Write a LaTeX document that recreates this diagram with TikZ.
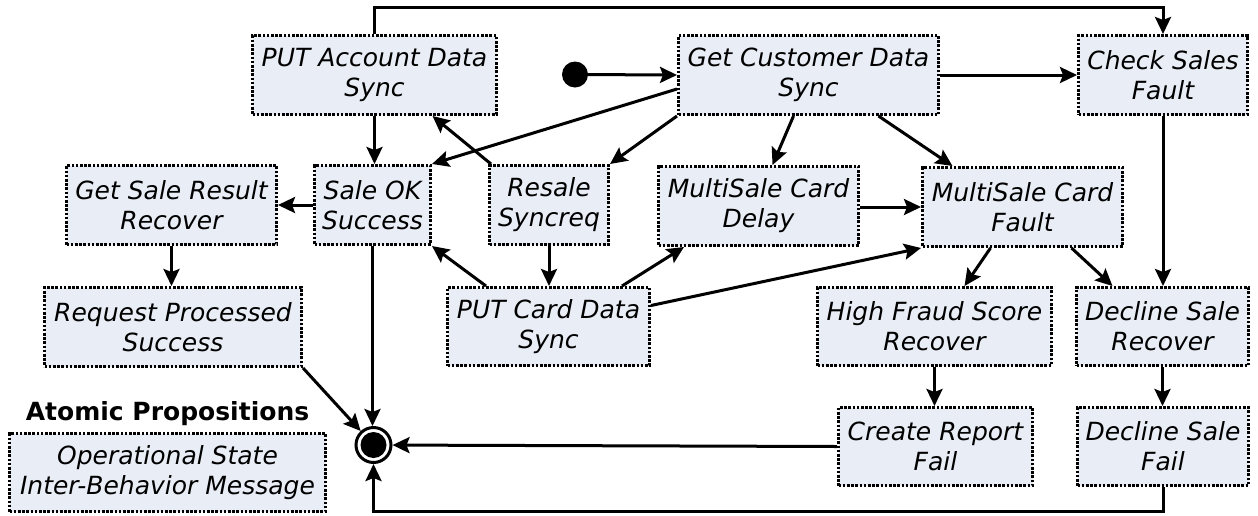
\documentclass[tikz,border=0pt]{standalone}
\usepackage{fontspec}
\setmainfont{DejaVu Sans}[ItalicFont={DejaVu Sans Oblique},BoldFont={DejaVu Sans Bold}]
\usetikzlibrary{arrows.meta,calc}
\definecolor{boxfill}{RGB}{233,238,246}
\newcommand{\boxfont}{\fontsize{25}{30}\selectfont\itshape}
\tikzset{
  state/.style={draw, line width=3pt, dash pattern=on 2.6pt off 1.6pt, fill=boxfill,
    inner sep=0pt, align=center, font=\boxfont, minimum height=79pt},
  arr/.style={-{Stealth[length=17pt,width=16pt,inset=3pt]}, line width=3pt},
}
\begin{document}
\begin{tikzpicture}[x=1pt,y=-1pt]
\useasboundingbox (0,0) rectangle (1258,515);

% states
\node[state, minimum width=244pt] (pa) at (374.5,75) {PUT Account Data\\Sync};
\node[state, minimum width=260pt] (gc) at (808.5,75) {Get Customer Data\\Sync};
\node[state, minimum width=169pt] (cs) at (1163,75) {Check Sales\\Fault};
\node[state, minimum width=210pt] (gsr) at (171.5,205) {Get Sale Result\\Recover};
\node[state, minimum width=116pt] (so) at (372.5,205) {Sale OK\\Success};
\node[state, minimum width=119pt] (rs) at (549,205) {Resale\\Syncreq};
\node[state, minimum width=200pt] (md) at (758.5,206) {MultiSale Card\\Delay};
\node[state, minimum width=200pt] (mf) at (1022.5,207) {MultiSale Card\\Fault};
\node[state, minimum width=202pt, minimum height=78pt] (pc) at (548.5,326.5) {PUT Card Data\\Sync};
\node[state, minimum width=234pt, minimum height=78pt] (hf) at (934.5,326.5) {High Fraud Score\\Recover};
\node[state, minimum width=172pt, minimum height=78pt] (dr) at (1162.5,326.5) {Decline Sale\\Recover};
\node[state, minimum width=257pt] (rp) at (173,327) {Request Processed\\Success};
\node[state, minimum width=194pt, minimum height=78pt] (cr) at (935.5,446.5) {Create Report\\Fail};
\node[state, minimum width=171pt, minimum height=78pt] (df) at (1163,446.5) {Decline Sale\\Fail};

% legend
\node[font=\fontsize{25}{30}\selectfont\bfseries] (aptitle) at (167.5,414) {Atomic Propositions};
\node[state, minimum width=316pt, minimum height=78pt] (ap) at (167.5,472.5) {Operational State\\Inter-Behavior Message};

% initial and final pseudo-states
\node[circle, fill=black, minimum size=26pt, inner sep=0pt] (init) at (575,74.5) {};
\node[circle, draw, fill=white, line width=3pt, minimum size=35pt, inner sep=0pt] (fin) at (373.5,445) {};
\fill (fin.center) circle (13pt);

% transitions
\draw[arr] (init) -- (gc.west);
\draw[arr] (gc.east) -- (cs.west);
\draw[arr] ([yshift=-14pt]gc.west) -- (so.north east);
\draw[arr] (gc.south west) -- (rs.north east);
\draw[arr] ([xshift=-15pt]gc.south) -- ([xshift=14pt]md.north);
\draw[arr] ([xshift=70pt]gc.south) -- ([xshift=-70pt]mf.north);
\draw[arr] ([xshift=3pt]rs.north west) -- ([xshift=58pt]pa.south);
\draw[arr] (pa.south) -- (pa.south |- so.north);
\draw[arr] (so.west) -- (gsr.east);
\draw[arr] (gsr.south) -- (gsr.south |- rp.north);
\draw[arr] (so.south) -- (so.south |- fin.north);
\draw[arr] (rp.south east) -- (fin);
\draw[arr] ([xshift=40pt]pc.north west) -- (so.south east);
\draw[arr] (rs.south) -- (rs.south |- pc.north);
\draw[arr] ([xshift=-29pt]pc.north east) -- ([xshift=27pt]md.south west);
\draw[arr] ([yshift=21pt]pc.east) -- (mf.south west);
\draw[arr] (md.east |- mf.west) -- (mf.west);
\draw[arr] ([xshift=-32pt]mf.south) -- ([xshift=30pt]hf.north);
\draw[arr] ([xshift=49pt]mf.south) -- ([xshift=-50pt]dr.north);
\draw[arr] (cs.south) -- (cs.south |- dr.north);
\draw[arr] (hf.south) -- (hf.south |- cr.north);
\draw[arr] (dr.south) -- (dr.south |- df.north);
\draw[arr] (cr.west) -- (fin);

% loops around the outside
\coordinate (topline) at (0,7);
\coordinate (botline) at (0,511);
\draw[arr] (pa.north) -- (pa.north |- topline) -| (cs.north);
\draw[arr] (df.south) -- (df.south |- botline) -| (fin.south);
\end{tikzpicture}
\end{document}
